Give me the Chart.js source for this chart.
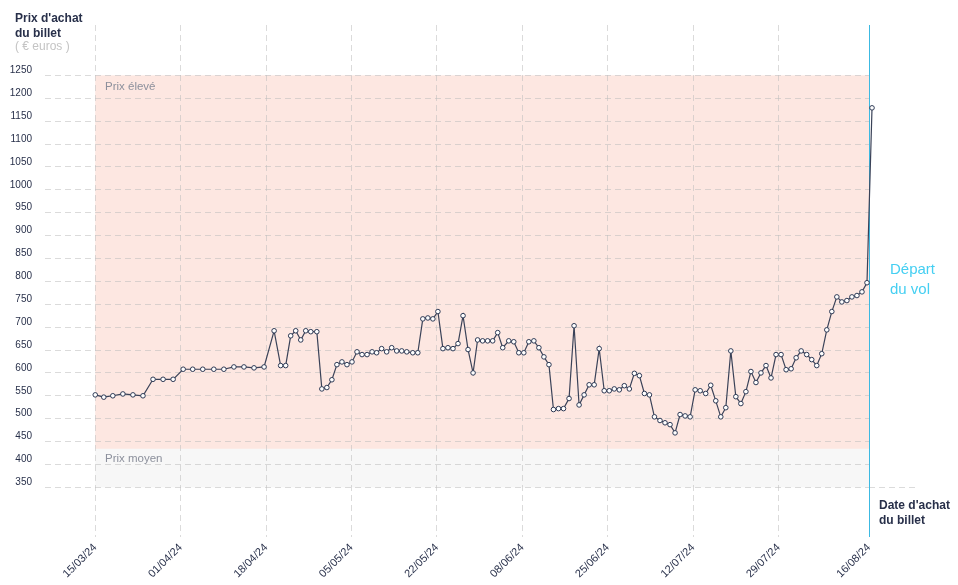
<!DOCTYPE html>
<html>
<head>
<meta charset="utf-8">
<script src="https://cdn.jsdelivr.net/npm/chart.js@4"></script>
<style>
    html, body { margin: 0; padding: 0; background: #fff; }
</style>
</head>
<body>
<canvas id="myChart" width="958" height="585"></canvas>
<script>
// Days since 15/03/24 (purchase date) and ticket price in euros
const purchaseDay = [
    0, 1.7, 3.5, 5.5, 7.5, 9.5, 11.5, 13.5, 15.5, 17.5,
    19.4, 21.4, 23.6, 25.6, 27.6, 29.6, 31.6, 33.6, 35.6, 36.9,
    37.9, 38.9, 39.9, 40.9, 41.9, 42.9, 44.1, 45.1, 46.1, 47.1,
    48.1, 49.1, 50.1, 51.1, 52.1, 53.1, 54.1, 55.1, 56.0, 57.0,
    58.0, 59.0, 60.0, 61.0, 62.0, 63.2, 64.2, 65.2, 66.2, 67.2,
    68.2, 69.2, 70.2, 71.2, 72.2, 73.2, 74.2, 75.2, 76.1, 77.1,
    78.1, 79.1, 80.1, 81.1, 82.3, 83.3, 84.3, 85.3, 86.3, 87.3,
    88.3, 89.3, 90.3, 91.2, 92.2, 93.2, 94.3, 95.3, 96.3, 97.3,
    98.3, 99.3, 100.3, 101.3, 102.3, 103.3, 104.3, 105.3, 106.3, 107.3,
    108.3, 109.3, 110.3, 111.3, 112.4, 113.4, 114.4, 115.4, 116.4, 117.4,
    118.4, 119.4, 120.4, 121.5, 122.5, 123.5, 124.5, 125.5, 126.5, 127.5,
    128.5, 129.5, 130.5, 131.5, 132.5, 133.5, 134.5, 135.5, 136.5, 137.5,
    138.5, 139.5, 140.5, 141.6, 142.6, 143.6, 144.6, 145.6, 146.6, 147.6,
    148.6, 149.6, 150.6, 151.6, 152.6, 153.6, 154.6
];
const ticketPrice = [
    552, 547, 550, 554, 552, 550, 586, 586, 586, 608,
    608, 608, 608, 608, 613, 613, 611, 613, 692, 616,
    616, 681, 692, 672, 692, 690, 690, 565, 568, 585,
    618, 624, 618, 624, 646, 640, 640, 646, 644, 653,
    646, 655, 648, 648, 646, 644, 644, 718, 720, 718,
    734, 653, 655, 653, 664, 725, 651, 600, 672, 670,
    670, 670, 688, 655, 670, 668, 644, 644, 668, 670,
    655, 635, 618, 520, 522, 522, 544, 703, 530, 552,
    574, 574, 653, 561, 561, 565, 563, 572, 565, 599,
    594, 555, 552, 504, 496, 491, 487, 469, 509, 506,
    504, 563, 561, 555, 573, 539, 504, 524, 648, 548,
    533, 559, 603, 579, 600, 616, 589, 640, 640, 607,
    609, 633, 648, 640, 629, 616, 642, 694, 734, 766,
    755, 758, 766, 769, 777, 797, 1179
];

// x axis ticks
const tickDays = [0, 17, 34, 51, 68, 85, 102, 119, 136, 154];
const tickLabels = ['15/03/24', '01/04/24', '18/04/24', '05/05/24', '22/05/24',
    '08/06/24', '25/06/24', '12/07/24', '29/07/24', '16/08/24'];

// y axis ticks
const priceTicks = [350, 400, 450, 500, 550, 600, 650, 700, 750, 800,
    850, 900, 950, 1000, 1050, 1100, 1150, 1200, 1250];

// price bands
const highBand = [434, 1250];
const averageBand = [350, 434];

const FONT = '"Liberation Sans", Arial, sans-serif';
const NAVY = '#28304a';
const CYAN_LINE = '#3cb9e2';
const CYAN_TEXT = '#44cff2';

const decorPlugin = {
    id: 'decor',
    beforeDraw(chart) {
        const { ctx, scales: { x, y } } = chart;
        const x0 = x.getPixelForValue(tickDays[0]);
        const x1 = x.getPixelForValue(tickDays[tickDays.length - 1]);
        ctx.save();
        // Prix élevé band
        let top = y.getPixelForValue(highBand[1]);
        let bottom = y.getPixelForValue(highBand[0]);
        ctx.fillStyle = 'rgb(253, 231, 225)';
        ctx.fillRect(x0, top, x1 - x0, bottom - top);
        // Prix moyen band
        top = y.getPixelForValue(averageBand[1]);
        bottom = y.getPixelForValue(averageBand[0]);
        ctx.fillStyle = 'rgb(247, 247, 247)';
        ctx.fillRect(x0, top, x1 - x0, bottom - top);
        ctx.restore();
    },
    beforeDatasetsDraw(chart) {
        const { ctx, chartArea, scales: { x, y } } = chart;
        const xEnd = x.getPixelForValue(tickDays[tickDays.length - 1]);
        ctx.save();
        // extend the lowest gridline to the right
        const y350 = Math.round(y.getPixelForValue(priceTicks[0])) + 0.5;
        ctx.strokeStyle = 'rgba(190, 190, 190, 0.55)';
        ctx.lineWidth = 1;
        ctx.setLineDash([6, 4]);
        ctx.beginPath();
        ctx.moveTo(xEnd, y350);
        ctx.lineTo(918, y350);
        ctx.stroke();
        // departure line
        ctx.setLineDash([]);
        ctx.strokeStyle = CYAN_LINE;
        ctx.beginPath();
        ctx.moveTo(Math.round(xEnd) + 0.5, chartArea.top);
        ctx.lineTo(Math.round(xEnd) + 0.5, chartArea.bottom);
        ctx.stroke();
        ctx.restore();
    },
    afterDraw(chart) {
        const { ctx } = chart;
        ctx.save();
        ctx.textBaseline = 'middle';
        ctx.textAlign = 'left';
        // y axis title
        ctx.fillStyle = NAVY;
        ctx.font = 'bold 12px ' + FONT;
        ctx.fillText("Prix d'achat", 15, 19);
        ctx.fillText('du billet', 15, 34);
        ctx.fillStyle = '#c4c4c4';
        ctx.font = '12px ' + FONT;
        ctx.fillText('( € euros )', 15, 47);
        // x axis title
        ctx.fillStyle = NAVY;
        ctx.font = 'bold 12px ' + FONT;
        ctx.fillText("Date d'achat", 879, 506);
        ctx.fillText('du billet', 879, 521);
        // band labels
        ctx.fillStyle = '#8c909c';
        ctx.font = '11.5px ' + FONT;
        ctx.fillText('Prix élevé', 105, 87);
        ctx.fillText('Prix moyen', 105, 459);
        // departure label
        ctx.fillStyle = CYAN_TEXT;
        ctx.font = '15px ' + FONT;
        ctx.fillText('Départ', 890, 270);
        ctx.fillText('du vol', 890, 290);
        ctx.restore();
    }
};

let ctx = document.getElementById('myChart').getContext('2d');
let myChart = new Chart(ctx, {
    type: 'line',
    data: {
        datasets: [{
            label: 'Prix',
            data: purchaseDay.map((d, i) => ({ x: d, y: ticketPrice[i] })),
            borderColor: '#3a4258',
            borderWidth: 1.2,
            pointRadius: 2.3,
            pointBackgroundColor: '#ffffff',
            pointBorderColor: '#2e3a55',
            pointBorderWidth: 1,
            tension: 0,
            fill: false,
            clip: false
        }]
    },
    options: {
        responsive: false,
        animation: false,
        devicePixelRatio: 1,
        layout: {
            padding: { top: 25, right: 89, bottom: 0, left: 0 }
        },
        plugins: {
            legend: { display: false },
            tooltip: { enabled: false }
        },
        scales: {
            x: {
                type: 'linear',
                min: -10,
                max: 154,
                afterBuildTicks: (scale) => {
                    scale.ticks = tickDays.map(v => ({ value: v }));
                },
                afterFit: (scale) => { scale.height = 48; },
                ticks: {
                    autoSkip: false,
                    minRotation: 45,
                    maxRotation: 45,
                    padding: 4,
                    color: NAVY,
                    font: { family: FONT, size: 11 },
                    callback: (value, index) => tickLabels[index]
                },
                grid: {
                    drawTicks: false,
                    color: (c) => c.index === tickDays.length - 1 ? 'rgba(0,0,0,0)' : 'rgba(190, 190, 190, 0.55)',
                    lineWidth: 1
                },
                border: { display: false, dash: [6, 4] }
            },
            y: {
                min: 241.5,
                max: 1360,
                afterBuildTicks: (scale) => {
                    scale.ticks = priceTicks.map(v => ({ value: v }));
                },
                afterFit: (scale) => { scale.width = 45; },
                ticks: {
                    padding: 13,
                    labelOffset: -5,
                    color: NAVY,
                    font: { family: FONT, size: 10 },
                    callback: (value) => value
                },
                grid: {
                    drawTicks: false,
                    color: 'rgba(190, 190, 190, 0.55)',
                    lineWidth: 1
                },
                border: { display: false, dash: [6, 4] }
            }
        }
    },
    plugins: [decorPlugin]
});
</script>
</body>
</html>
